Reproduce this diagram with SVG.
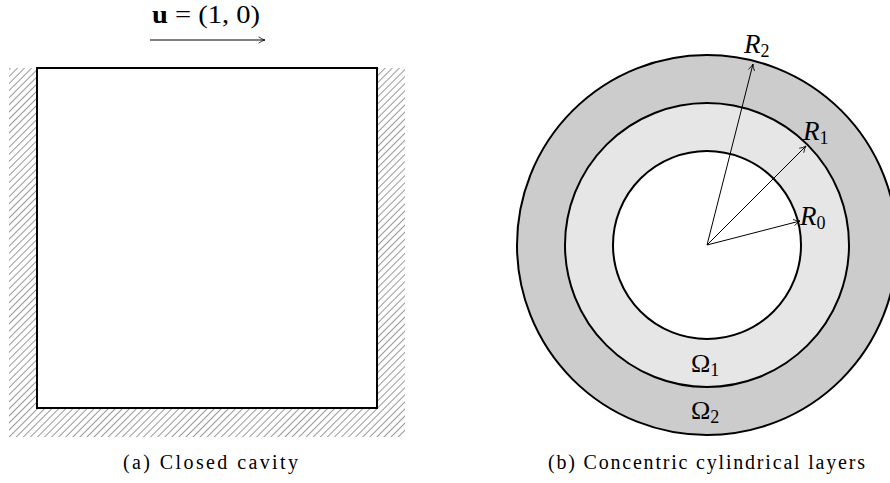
<svg xmlns="http://www.w3.org/2000/svg" width="890" height="483" viewBox="0 0 890 483">
<style>
.lbl{font-family:"Liberation Serif","DejaVu Serif",serif;fill:#000}
.it{font-style:italic}
.cap{font-family:"Liberation Serif","DejaVu Serif",serif;font-size:20px;fill:#000}
.wall{stroke:#000;stroke-width:2}
.thin{stroke:#000;stroke-width:1;fill:none}
</style>
<defs>
<pattern id="hatch" patternUnits="userSpaceOnUse" width="5" height="5" patternTransform="rotate(45)">
<line x1="0" y1="0" x2="0" y2="5" stroke="#333" stroke-width="1"/>
</pattern>
<marker id="arr" viewBox="0 0 10 10" refX="9" refY="5" markerWidth="8" markerHeight="8" orient="auto" markerUnits="userSpaceOnUse">
<path d="M1,1 Q5,4 9,5 Q5,6 1,9" fill="none" stroke="#000" stroke-width="1"/>
</marker>
</defs>
<g id="cavity">
<rect x="9" y="68" width="28" height="369" fill="url(#hatch)"/>
<rect x="377" y="68" width="28" height="369" fill="url(#hatch)"/>
<rect x="37" y="408" width="340" height="29" fill="url(#hatch)"/>
<rect x="37" y="68" width="340" height="340" class="wall" style="fill:#fff"/>
</g>
<g id="lid">
<text class="lbl" x="152" y="23" font-size="25" textLength="108" lengthAdjust="spacingAndGlyphs"><tspan font-weight="bold">u</tspan> = (1, 0)</text>
</g>
<g id="layers">
<circle cx="707" cy="245" r="190" class="wall" style="fill:#cccccc"/>
<circle cx="707" cy="245" r="142" class="wall" style="fill:#e6e6e6"/>
<circle cx="707" cy="245" r="94" class="wall" style="fill:#fff"/>
</g>
<g id="connectors">
<line x1="150" y1="40" x2="265" y2="40" class="thin" marker-end="url(#arr)"/>
<line x1="707" y1="245" x2="800" y2="221" class="thin" marker-end="url(#arr)"/>
<line x1="707" y1="245" x2="806" y2="146" class="thin" marker-end="url(#arr)"/>
<line x1="707" y1="245" x2="753" y2="64" class="thin" marker-end="url(#arr)"/>
</g>
<g id="labels">
<text class="lbl it" x="744" y="53" font-size="27">R<tspan font-size="18" font-style="normal" dy="4">2</tspan></text>
<text class="lbl it" x="803" y="140" font-size="27">R<tspan font-size="18" font-style="normal" dy="4">1</tspan></text>
<text class="lbl it" x="800" y="225" font-size="27">R<tspan font-size="18" font-style="normal" dy="4">0</tspan></text>
<text class="lbl" x="691" y="372" font-size="26">Ω<tspan font-size="18" dy="4">1</tspan></text>
<text class="lbl" x="691" y="419" font-size="26">Ω<tspan font-size="18" dy="4">2</tspan></text>
</g>
<g id="captions">
<text class="cap" x="123" y="469" textLength="175" lengthAdjust="spacing">(a) Closed cavity</text>
<text class="cap" x="548" y="469" textLength="317" lengthAdjust="spacing">(b) Concentric cylindrical layers</text>
</g>
</svg>
